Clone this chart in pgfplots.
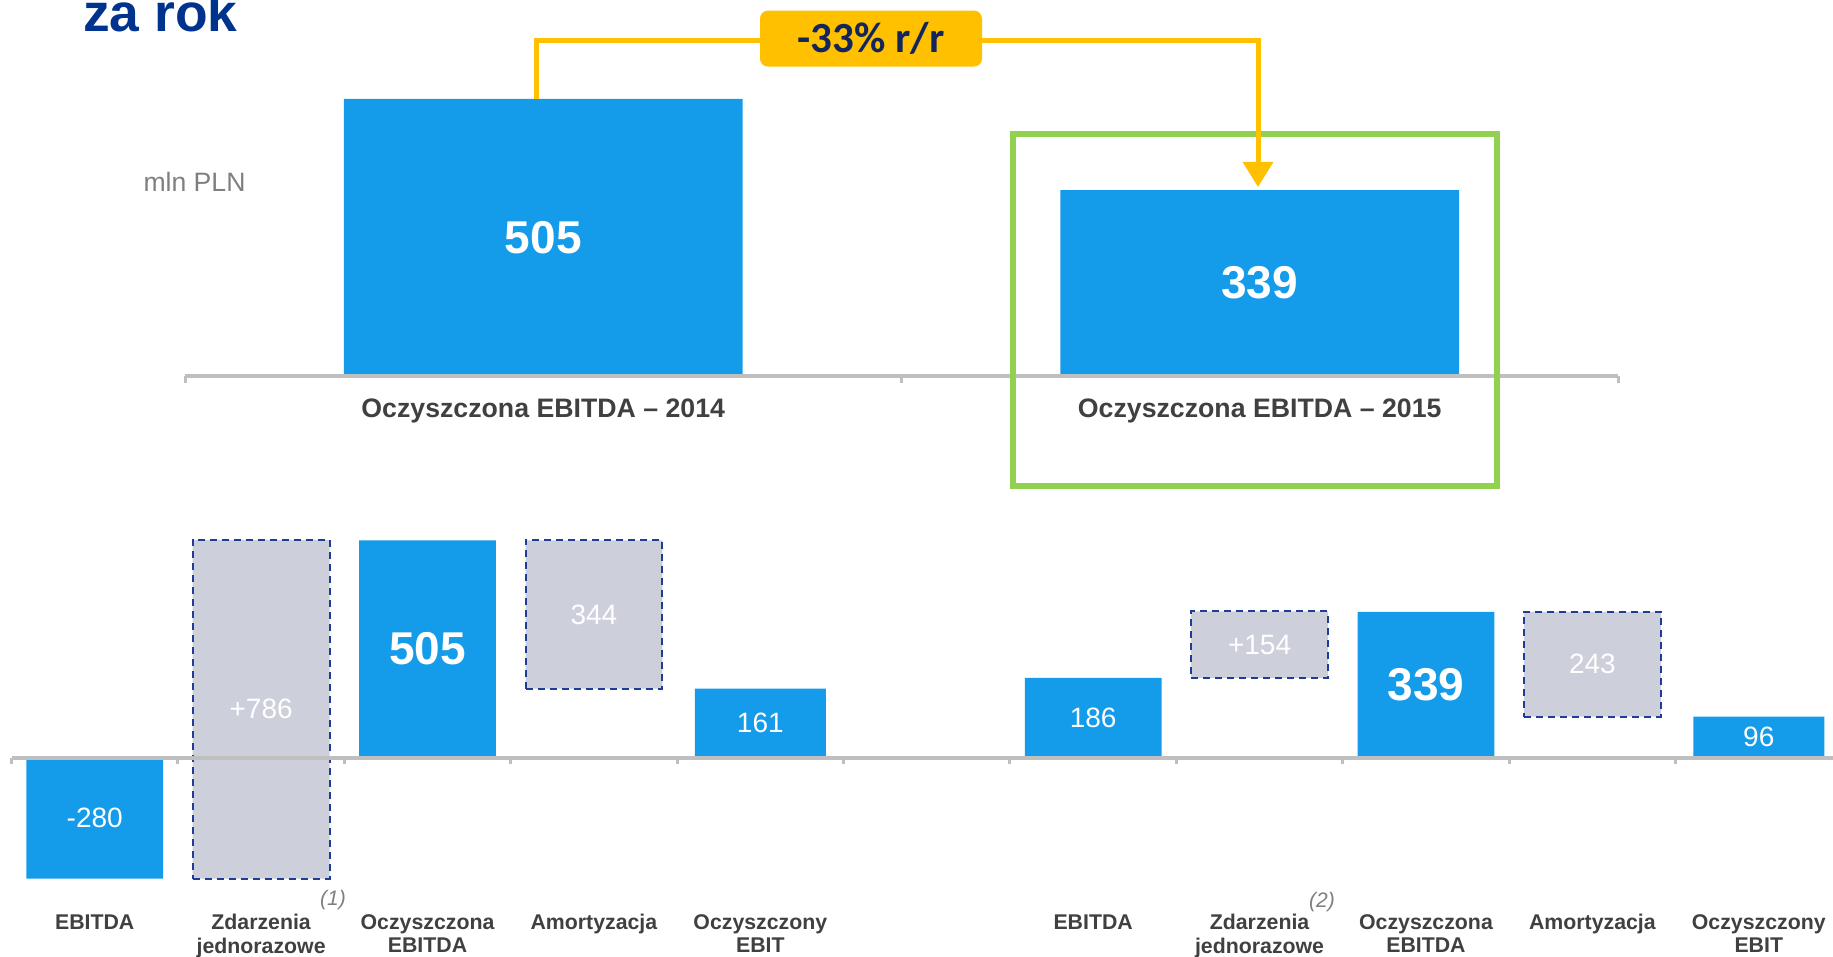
\documentclass[border=0pt]{standalone}
\usepackage{pgfplots}
\pgfplotsset{compat=1.18}
\usepackage{pgfplotstable}
\usetikzlibrary{arrows.meta}
\usepackage{fontspec}
\setmainfont{Liberation Sans}
\newfontfamily\carlito{Carlito}

\definecolor{barblue}{RGB}{20,155,233}
\definecolor{boxgray}{RGB}{205,207,219}
\definecolor{boxnavy}{RGB}{31,60,150}
\definecolor{axisgray}{RGB}{191,191,191}
\definecolor{labelgray}{RGB}{64,64,64}
\definecolor{hlgreen}{RGB}{146,208,80}
\definecolor{gold}{RGB}{255,192,0}
\definecolor{titleblue}{RGB}{0,51,141}
\definecolor{deltanavy}{RGB}{19,38,92}
\definecolor{unitgray}{RGB}{127,127,127}

\pgfplotstableread{
x y lab
0 505 505
1 339 339
}\topdata
\pgfplotstableread{
x y lab
2 505 505
8 339 339
}\bigblue
\pgfplotstableread{
x y lab
0 -280 -280
6 186 186
}\midblue
\pgfplotstableread{
x y lab
4 161 161
10 96 96
}\narrowblue
\pgfplotstableread{
x base h lab
1 -280 786 +786
3 161 344 344
7 186 154 +154
9 96 243 243
}\grayfloat

\pgfplotsset{
  catline/.style={
    scale only axis, anchor=south west,
    axis y line=none, axis x line=middle,
    x axis line style={-, draw=axisgray, line width=2.4pt},
    hide obscured x ticks=false,
    major tick length=0pt,
    tick align=outside,
    minor tick style={draw=axisgray, line width=1.5pt},
    clip=false,
  },
  centerlab/.style={
    nodes near coords, point meta=explicit symbolic,
    visualization depends on={\thisrow{#1} \as \hh},
    every node near coord/.append style={anchor=center, text=white,
      shift={(axis direction cs:0,{-0.5*(\hh)})}},
  },
}

\begin{document}
\begin{tikzpicture}

% ---- top chart ----
\begin{axis}[catline,
  at={(92.5pt,290.5pt)}, width=716.5pt, height=138.5pt,
  xmin=-0.5, xmax=1.5, ymin=0, ymax=505,
  xtick={0,1},
  xticklabels={Oczyszczona EBITDA – 2014, Oczyszczona EBITDA – 2015},
  minor xtick={-0.5,0.5,1.5},
  minor tick length=3.65pt,
  xticklabel style={font=\bfseries\fontsize{13.35}{15}\selectfont, text=labelgray, yshift=-8pt},
  axis on top,
]
\addplot[ybar, bar width=199.3pt, bar shift=0pt, fill=barblue, draw=none, centerlab=y,
  nodes near coords style={font=\bfseries\fontsize{23}{27}\selectfont}]
  table[x=x, y=y, meta=lab] {\topdata};
\end{axis}

% ---- bottom chart: floating grey boxes ----
\begin{axis}[scale only axis, anchor=south west,
  at={(5.75pt,39.15pt)}, width=910.75pt, height=169.2pt,
  xmin=-0.5, xmax=10.446, ymin=-280, ymax=505,
  hide axis, ybar stacked, stack negative=on previous, bar width=68.4pt, clip=false]
\addplot[draw=none, fill=none] table[x=x, y=base] {\grayfloat};
\addplot[fill=boxgray, draw=boxnavy, line width=1pt, dash pattern=on 3.5pt off 2.5pt]
  table[x=x, y=h] {\grayfloat};
\end{axis}

% ---- bottom chart: blue bars and axis ----
\begin{axis}[catline,
  at={(5.75pt,39.15pt)}, width=910.75pt, height=169.2pt,
  xmin=-0.5, xmax=10.446, ymin=-280, ymax=505,
  xtick={0,1,2,3,4,5,6,7,8,9,10},
  xticklabels={EBITDA, {Zdarzenia\\jednorazowe}, {Oczyszczona\\EBITDA}, Amortyzacja, {Oczyszczony\\EBIT}, {},
               EBITDA, {Zdarzenia\\jednorazowe}, {Oczyszczona\\EBITDA}, Amortyzacja, {Oczyszczony\\EBIT}},
  minor xtick={-0.5,0.5,1.5,2.5,3.5,4.5,5.5,6.5,7.5,8.5,9.5},
  minor tick length=2.9pt,
  xticklabel style={font=\bfseries\fontsize{10.65}{11.8}\selectfont, text=labelgray, align=center, yshift=-74.7pt},
  axis on top,
]
\addplot[ybar, bar width=68.4pt, bar shift=0pt, fill=barblue, draw=none, centerlab=y,
  nodes near coords style={font=\bfseries\fontsize{23}{27}\selectfont}]
  table[x=x, y=y, meta=lab] {\bigblue};
\addplot[ybar, bar width=68.4pt, bar shift=0pt, fill=barblue, draw=none, centerlab=y,
  nodes near coords style={font=\fontsize{14}{16}\selectfont}]
  table[x=x, y=y, meta=lab] {\midblue};
\addplot[ybar, bar width=65.5pt, bar shift=0pt, fill=barblue, draw=none, centerlab=y,
  nodes near coords style={font=\fontsize{14}{16}\selectfont}]
  table[x=x, y=y, meta=lab] {\narrowblue};
% labels of the grey boxes, at the middle of each box
\addplot[only marks, mark=*, mark size=0pt, mark options={line width=0pt, opacity=0},
  nodes near coords, point meta=explicit symbolic,
  every node near coord/.append style={anchor=center, text=white, opacity=1, text opacity=1,
    font=\fontsize{14}{16}\selectfont}]
  table[x=x, y expr=\thisrow{base}+0.5*\thisrow{h}, meta=lab] {\grayfloat};
\end{axis}

% ---- annotations ----
\node[anchor=base west, inner sep=0pt, font=\bfseries\fontsize{26.7}{32}\selectfont, text=titleblue] at (41.35pt,462.5pt) {za rok};
\node[font=\fontsize{13.3}{16}\selectfont, text=unitgray] at (97.25pt,387.5pt) {mln PLN};
\node[font=\itshape\fontsize{10.5}{12}\selectfont, text=unitgray] at (166.5pt,28.3pt) {(1)};
\node[font=\itshape\fontsize{10.5}{12}\selectfont, text=unitgray] at (661pt,27.5pt) {(2)};

\draw[hlgreen, line width=3pt] (506.5pt,235.25pt) rectangle (748.5pt,411.3pt);
\draw[gold, line width=2.5pt, -{Triangle[width=14.75pt,length=12.5pt]}]
  (268.3pt,429pt) |- (629pt,458pt) -- (629pt,385pt);
\node[fill=gold, rounded corners=4pt, minimum width=111pt, minimum height=28pt, inner sep=0pt,
  text=deltanavy, font=\carlito\bfseries\fontsize{21.5}{24}\selectfont] at (435.5pt,459.2pt) {-33\% r/r};

\pgfresetboundingbox
\path[use as bounding box] (0,0) rectangle (916.5pt,478.5pt);
\end{tikzpicture}
\end{document}
